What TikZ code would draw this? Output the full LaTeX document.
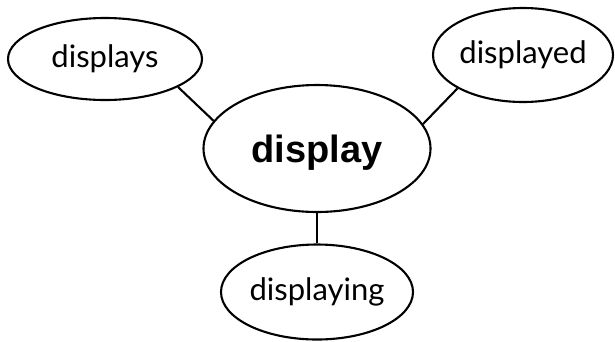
\documentclass[tikz,border=0pt]{standalone}
\usepackage{fontspec}
\setmainfont{Lato}
\newfontfamily\hubfont{Liberation Sans}
\usetikzlibrary{shapes.geometric}
\tikzset{
  bubble/.style={ellipse, draw=black, line width=2.1pt, inner sep=0pt,
                 font=\fontsize{31}{36}\selectfont},
  link/.style={line width=2.1pt, draw=black}
}
\begin{document}
\begin{tikzpicture}[x=1pt,y=-1pt]
  \useasboundingbox (0,0) rectangle (615,341);
  \node[bubble, minimum width=194pt, minimum height=82pt] (s)   at (105,59)  {displays};
  \node[bubble, minimum width=180pt, minimum height=94pt] (ed)  at (523,55)  {displayed};
  % baseline of the bold word sits a little below the ellipse centre
  \node[bubble, minimum width=227pt, minimum height=127pt,
        font=\hubfont\bfseries\fontsize{38}{44}\selectfont] (hub) at (317,148.5)
        {\raisebox{-14pt}[0pt][0pt]{display}};
  \node[bubble, minimum width=192pt, minimum height=95pt] (ing) at (317,292) {displaying};
  \draw[link] (s.-21)   -- (hub.165.6);
  \draw[link] (ed.-153) -- (hub.13.6);
  \draw[link] (hub.south) -- (ing.north);
\end{tikzpicture}
\end{document}
